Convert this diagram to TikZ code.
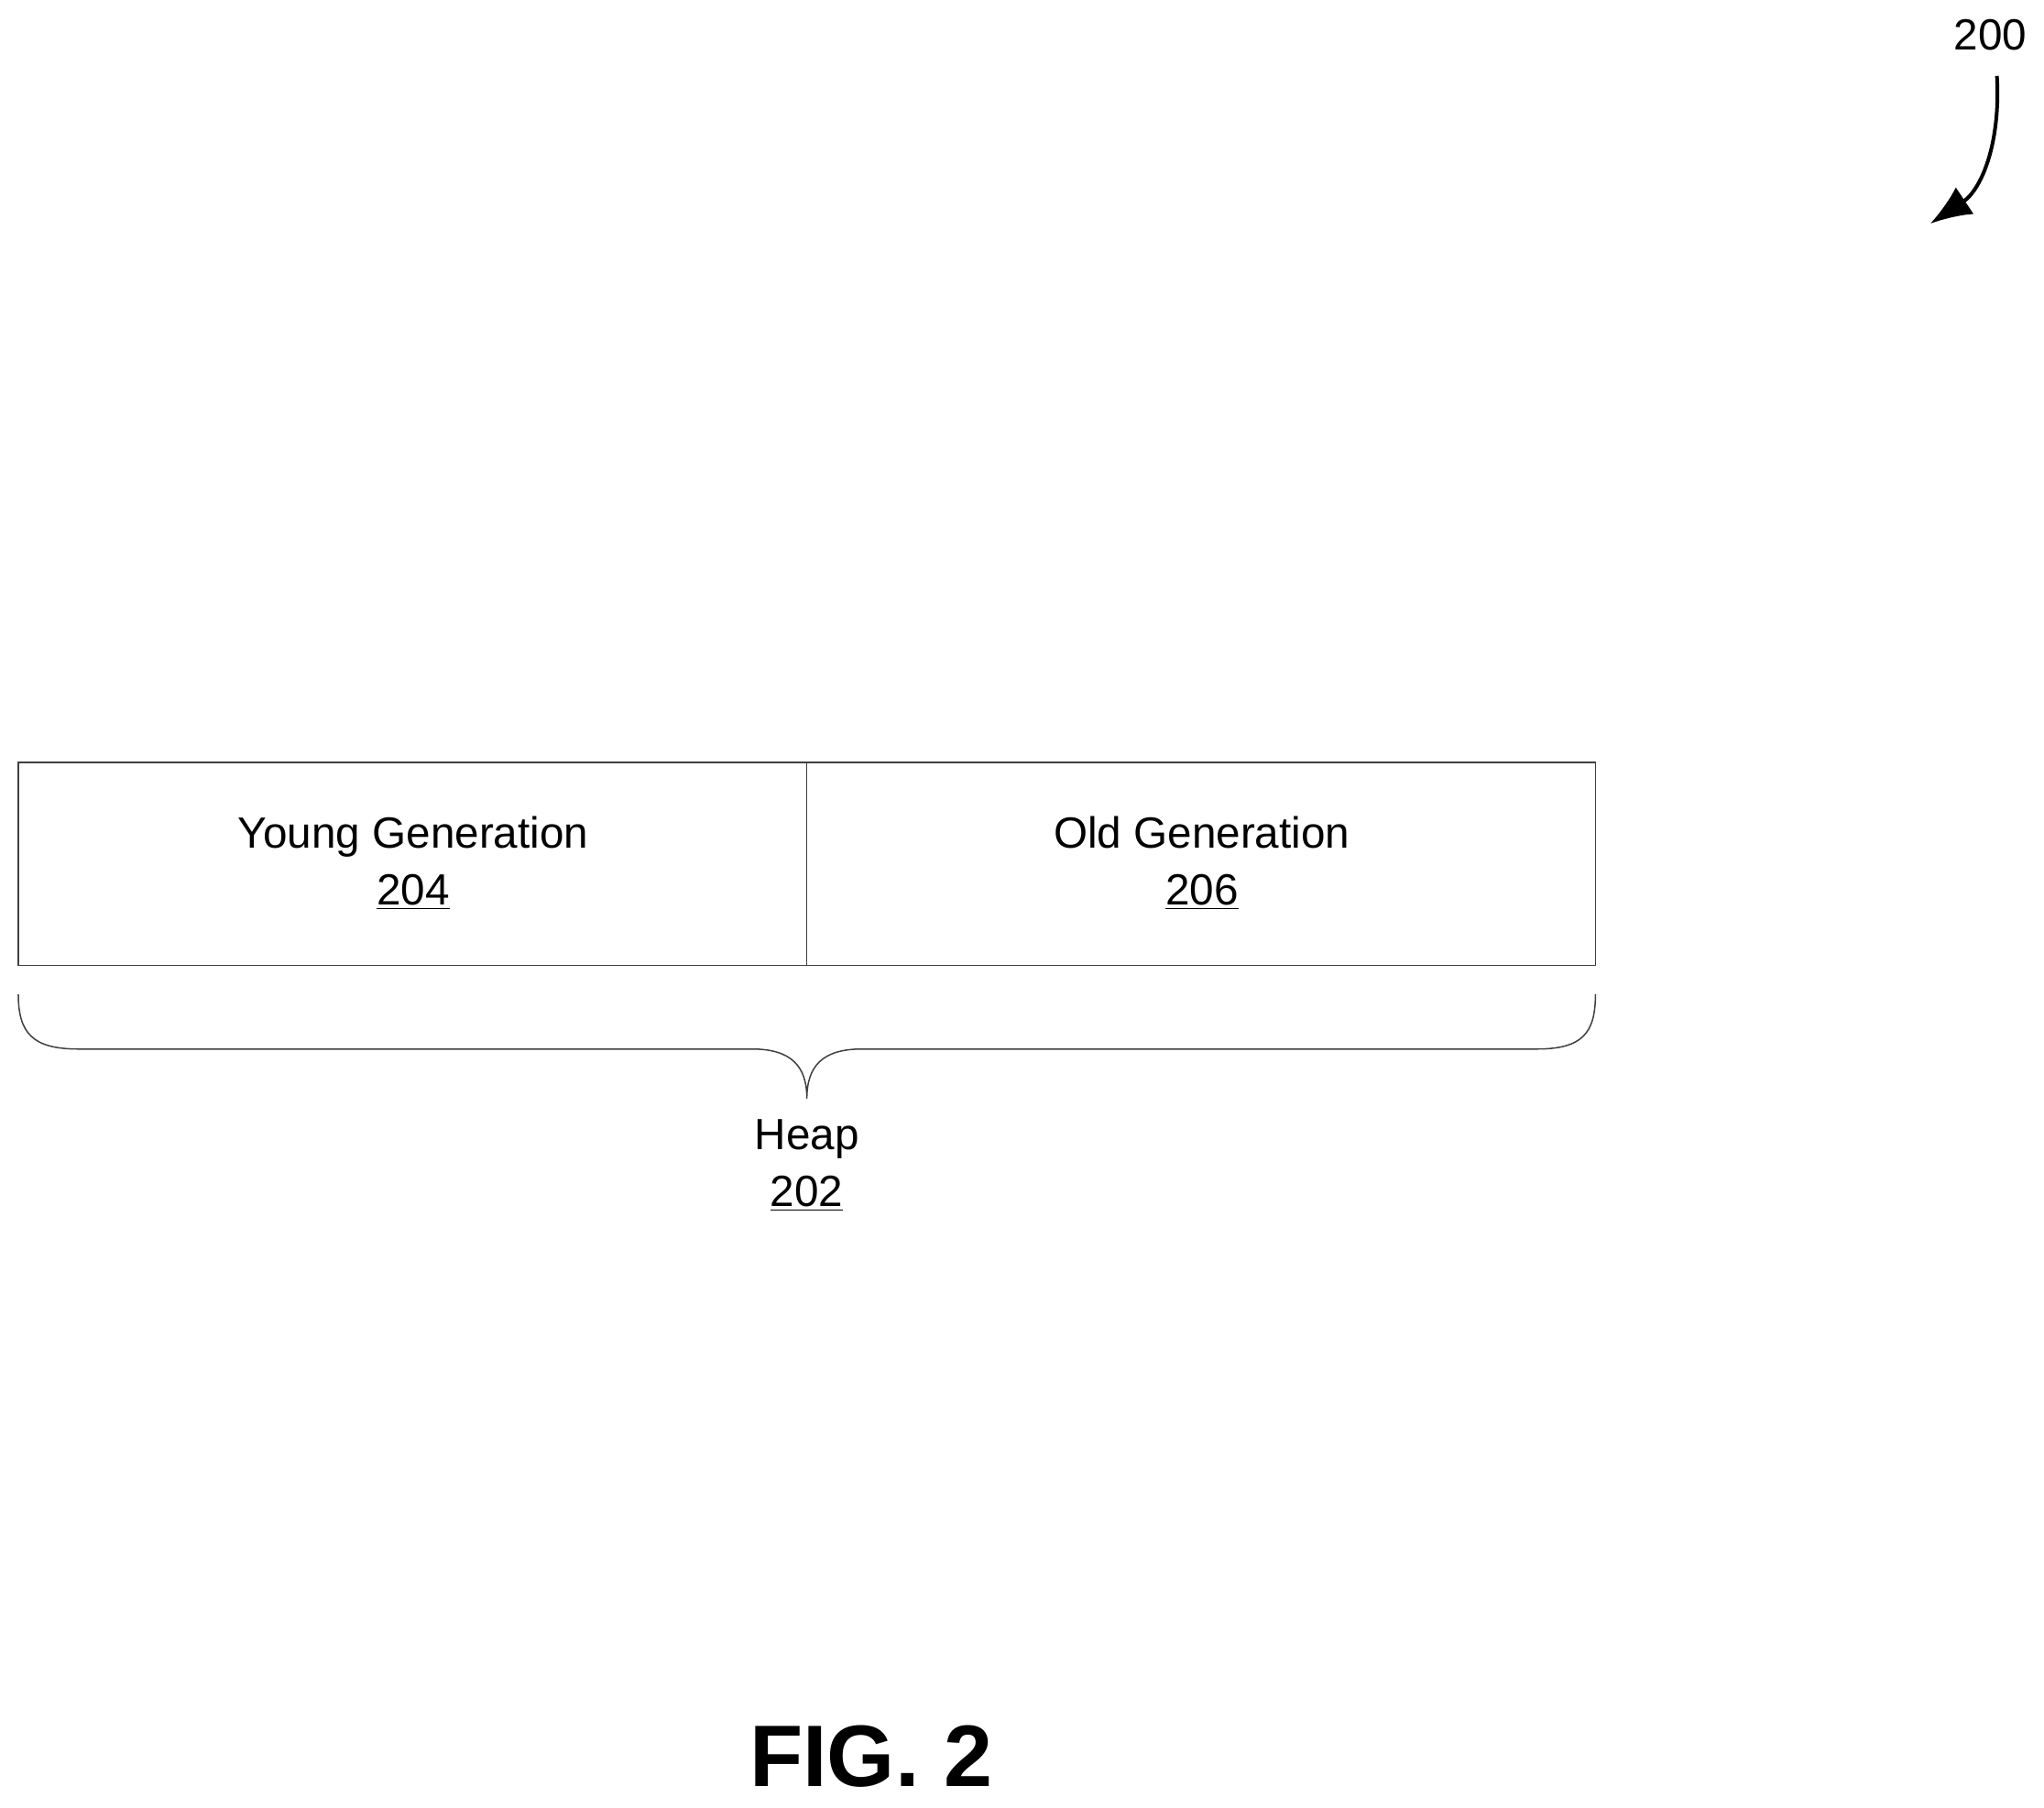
\documentclass[tikz,border=0pt]{standalone}
\usepackage{fontspec}
\setmainfont{Liberation Sans}
\usetikzlibrary{arrows.meta}
\begin{document}
\begin{tikzpicture}[x=0.02cm,y=-0.02cm,
  lbl/.style={align=center,font=\fontsize{19}{25}\selectfont},
  ln/.style={draw=black!75,line width=0.6pt}]
\useasboundingbox (0,0) rectangle (1563,1382);
\draw[ln] (14,583) rectangle (1220,738);
\draw[ln] (617,583) -- (617,738);
\node[lbl] (young) at (316,660) {Young Generation\\\underline{204}};
\node[lbl] (old) at (919,660) {Old Generation\\\underline{206}};
\draw[ln] (14,760) .. controls (14,790) and (25,802) .. (60,802) -- (575,802)
  .. controls (605,802) and (617,815) .. (617,840)
  .. controls (617,815) and (629,802) .. (659,802) -- (1175,802)
  .. controls (1210,802) and (1220,790) .. (1220,760);
\node[lbl] (heap) at (617,891) {Heap\\\underline{202}};
\node[font=\fontsize{38}{42}\selectfont\bfseries] (fig) at (666,1343) {FIG. 2};
\node[lbl] (ref) at (1522,27) {200};
\coordinate (tip) at (1476,171);
\draw[line width=1.6pt,-{Latex[length=18pt,width=14pt]}] (1527,58) .. controls (1530,110) and (1515,145) .. (tip);
\end{tikzpicture}
\end{document}
